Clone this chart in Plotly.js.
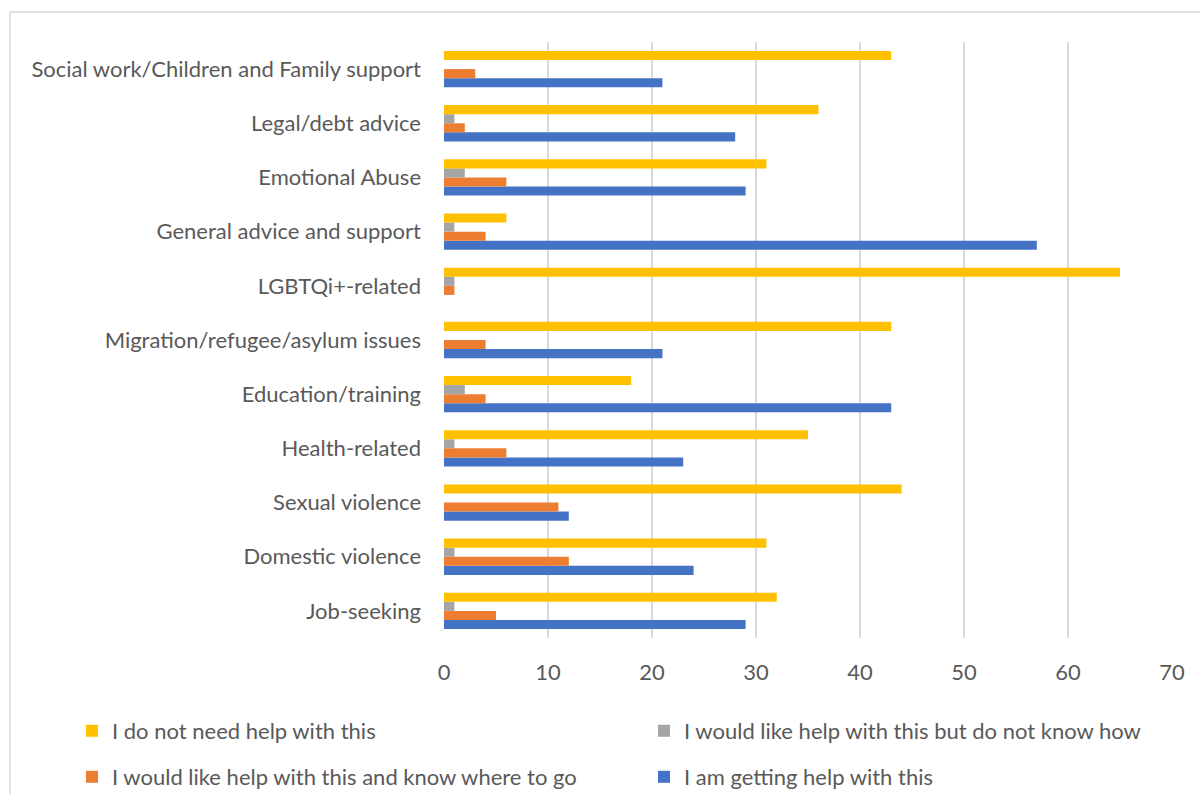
<!DOCTYPE html>
<html>
<head>
<meta charset="utf-8">
<script src="https://cdn.plot.ly/plotly-3.0.1.min.js"></script>
<style>html,body{margin:0;padding:0;background:#fff;}#chart{width:1200px;height:794px;}</style>
</head>
<body>
<div id="chart"></div>
<script>
// Categories, bottom to top (as drawn on the y axis)
const categories = [
  "Job-seeking",
  "Domestic violence",
  "Sexual violence",
  "Health-related",
  "Education/training",
  "Migration/refugee/asylum issues",
  "LGBTQi+-related",
  "General advice and support",
  "Emotional Abuse",
  "Legal/debt advice",
  "Social work/Children and Family support"
];
const seriesNames = [
  "I am getting help with this",
  "I would like help with this and know where to go",
  "I would like help with this but do not know how",
  "I do not need help with this"
];
const gettingHelp     = [29, 24, 12, 23, 43, 21, 0, 57, 29, 28, 21];
const knowWhereToGo   = [5, 12, 11, 6, 4, 4, 1, 4, 6, 2, 3];
const doNotKnowHow    = [1, 1, 0, 1, 2, 0, 1, 1, 2, 1, 0];
const doNotNeedHelp   = [32, 31, 44, 35, 18, 43, 65, 6, 31, 36, 43];
const xTicks = [0, 10, 20, 30, 40, 50, 60, 70];

const colors = ["#4472C4", "#ED7D31", "#A5A5A5", "#FFC000"];
const values = [gettingHelp, knowWhereToGo, doNotKnowHow, doNotNeedHelp];
// each series gets its own legend box, laid out in a 2x2 grid like the original
const legendIds = ["legend4", "legend3", "legend2", "legend"];

const traces = values.map((v, i) => ({
  type: "bar",
  orientation: "h",
  name: seriesNames[i],
  y: categories,
  x: v,
  marker: {color: colors[i]},
  legend: legendIds[i],
  hoverinfo: "x+name"
}));

const font = {family: "Lato, 'Open Sans', sans-serif", size: 22, color: "#595959"};

function legendAt(px, py) {
  return {
    xref: "container", yref: "container",
    x: px / 1200, xanchor: "left",
    y: (794 - py) / 794, yanchor: "middle",
    orientation: "v",
    font: font,
    bgcolor: "rgba(0,0,0,0)",
    borderwidth: 0
  };
}

const layout = {
  width: 1200,
  height: 794,
  paper_bgcolor: "#ffffff",
  plot_bgcolor: "#ffffff",
  margin: {l: 444, r: 28, t: 42, b: 156, autoexpand: false},
  barmode: "group",
  bargap: 0.33,
  bargroupgap: 0,
  font: font,
  showlegend: true,
  xaxis: {
    range: [0, 70],
    tickvals: xTicks,
    ticktext: xTicks.map(String),
    showgrid: true,
    gridcolor: "#d9d9d9",
    gridwidth: 1.5,
    zeroline: false,
    showline: false,
    ticks: "",
    ticklabelstandoff: 19,
    tickfont: font,
    automargin: false,
    fixedrange: true
  },
  yaxis: {
    type: "category",
    categoryorder: "array",
    categoryarray: categories,
    showgrid: false,
    zeroline: false,
    showline: false,
    ticks: "",
    ticklabelstandoff: 22,
    tickfont: font,
    automargin: false,
    fixedrange: true
  },
  legend: legendAt(72, 731),
  legend2: legendAt(644, 731),
  legend3: legendAt(72, 777),
  legend4: legendAt(644, 777),
  shapes: [{
    type: "rect",
    xref: "paper", yref: "paper",
    x0: (10 - 444) / 728, x1: 1.2,
    y0: -0.4, y1: (638 - 12) / 596,
    line: {color: "#d9d9d9", width: 1.5},
    fillcolor: "rgba(0,0,0,0)",
    layer: "below"
  }]
};

Plotly.newPlot("chart", traces, layout, {displayModeBar: false, staticPlot: true});
</script>
</body>
</html>
